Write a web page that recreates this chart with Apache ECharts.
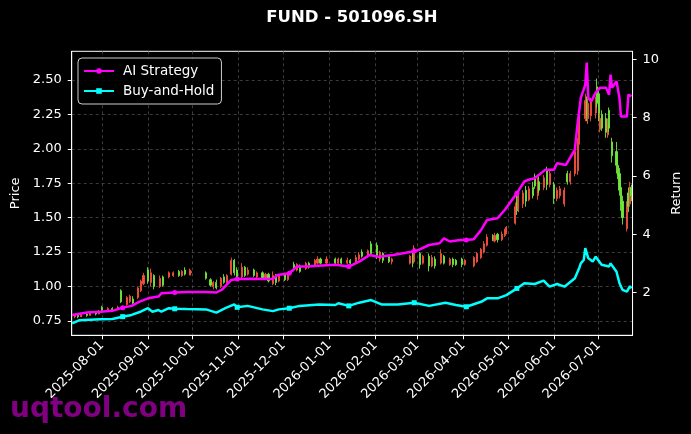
<!DOCTYPE html>
<html><head><meta charset="utf-8">
<script src="https://cdn.jsdelivr.net/npm/echarts@6/dist/echarts.min.js"></script>
<style>html,body{margin:0;padding:0;background:#000;}#c{width:691px;height:434px;}</style>
</head><body><div id="c"></div>
<script>
// ---------- DATA ----------
const candleDates = ['2025-07-14','2025-07-16','2025-07-18','2025-07-22','2025-07-24','2025-07-28','2025-07-30','2025-08-01','2025-08-05','2025-08-08','2025-08-12','2025-08-14','2025-08-18','2025-08-20','2025-08-22','2025-08-25','2025-08-27','2025-08-29','2025-09-01','2025-09-03','2025-09-05','2025-09-09','2025-09-11','2025-09-15','2025-09-18','2025-09-22','2025-09-24','2025-09-26','2025-09-29','2025-09-30','2025-10-10','2025-10-13','2025-10-15','2025-10-17','2025-10-20','2025-10-22','2025-10-24','2025-10-27','2025-10-29','2025-10-31','2025-11-03','2025-11-05','2025-11-07','2025-11-11','2025-11-13','2025-11-17','2025-11-19','2025-11-21','2025-11-24','2025-11-26','2025-11-28','2025-12-02','2025-12-04','2025-12-08','2025-12-10','2025-12-12','2025-12-16','2025-12-18','2025-12-22','2025-12-24','2025-12-26','2025-12-30','2026-01-05','2026-01-07','2026-01-09','2026-01-13','2026-01-15','2026-01-19','2026-01-21','2026-01-23','2026-01-27','2026-01-29','2026-02-02','2026-02-04','2026-02-06','2026-02-10','2026-02-12','2026-02-24','2026-02-26','2026-02-27','2026-03-03','2026-03-05','2026-03-09','2026-03-11','2026-03-13','2026-03-17','2026-03-19','2026-03-23','2026-03-25','2026-03-27','2026-03-31','2026-04-02','2026-04-08','2026-04-10','2026-04-13','2026-04-15','2026-04-17','2026-04-21','2026-04-22','2026-04-24','2026-04-27','2026-04-29','2026-04-30','2026-05-06','2026-05-07','2026-05-08','2026-05-11','2026-05-13','2026-05-15','2026-05-18','2026-05-19','2026-05-21','2026-05-22','2026-05-25','2026-05-27','2026-05-29','2026-06-01','2026-06-03','2026-06-05','2026-06-08','2026-06-10','2026-06-12','2026-06-15','2026-06-17','2026-06-18','2026-06-22','2026-06-23','2026-06-24','2026-06-26','2026-06-29','2026-06-30','2026-07-01','2026-07-02','2026-07-03','2026-07-06','2026-07-07','2026-07-08','2026-07-10','2026-07-13','2026-07-14','2026-07-15','2026-07-16','2026-07-17','2026-07-20','2026-07-21','2026-07-22','2026-07-23'];
const candleOpen  = [0.78,0.79,0.78,0.80,0.79,0.81,0.80,0.85,0.83,0.84,0.83,0.97,0.87,0.89,0.91,0.92,0.97,1.02,1.12,1.03,1.08,1.00,1.07,1.07,1.08,1.11,1.08,1.12,1.09,1.10,1.10,1.05,1.00,1.03,1.00,1.07,1.03,1.09,1.19,1.12,1.07,1.14,1.09,1.12,1.07,1.10,1.06,1.09,1.02,1.08,1.04,1.09,1.05,1.16,1.12,1.15,1.13,1.17,1.15,1.17,1.20,1.17,1.20,1.17,1.20,1.17,1.19,1.18,1.20,1.25,1.22,1.31,1.30,1.20,1.24,1.22,1.18,1.17,1.23,1.18,1.24,1.17,1.22,1.15,1.20,1.17,1.22,1.16,1.20,1.19,1.20,1.16,1.15,1.18,1.21,1.25,1.30,1.37,1.33,1.38,1.34,1.37,1.39,1.46,1.62,1.56,1.60,1.70,1.63,1.72,1.80,1.66,1.76,1.72,1.84,1.74,1.74,1.64,1.66,1.60,1.82,1.76,1.82,1.84,2.05,2.22,2.36,2.22,2.24,2.26,2.45,2.40,2.14,2.25,2.22,2.10,2.28,2.05,1.98,1.88,1.82,1.72,1.62,1.42,1.68,1.60,1.72];
const candleClose = [0.79,0.78,0.80,0.79,0.81,0.80,0.82,0.83,0.84,0.83,0.85,0.89,0.92,0.93,0.88,0.99,1.04,1.08,1.04,1.10,1.00,1.06,1.01,1.10,1.10,1.08,1.11,1.09,1.12,1.11,1.06,1.01,1.03,0.99,1.06,1.03,1.08,1.19,1.10,1.07,1.14,1.08,1.12,1.08,1.10,1.06,1.09,1.04,1.08,1.03,1.08,1.05,1.09,1.12,1.16,1.11,1.17,1.14,1.19,1.20,1.17,1.20,1.17,1.20,1.17,1.19,1.17,1.21,1.23,1.22,1.26,1.24,1.22,1.25,1.19,1.18,1.20,1.22,1.17,1.28,1.16,1.22,1.15,1.21,1.15,1.24,1.17,1.20,1.16,1.16,1.16,1.19,1.21,1.24,1.27,1.31,1.36,1.34,1.37,1.34,1.38,1.41,1.43,1.58,1.55,1.66,1.68,1.62,1.71,1.66,1.73,1.76,1.70,1.79,1.74,1.82,1.64,1.70,1.71,1.70,1.76,1.82,1.98,2.05,2.25,2.35,2.24,2.33,2.34,2.36,2.33,2.22,2.22,2.15,2.12,2.18,2.15,1.95,1.88,1.80,1.70,1.60,1.50,1.58,1.58,1.72,1.66];
const candleLow   = [0.77,0.77,0.78,0.78,0.79,0.79,0.80,0.81,0.82,0.82,0.83,0.88,0.86,0.88,0.87,0.91,0.96,1.01,1.02,1.00,0.98,0.99,1.00,1.06,1.07,1.07,1.07,1.08,1.08,1.08,1.05,1.00,0.98,0.98,0.99,1.02,1.02,1.08,1.08,1.06,1.06,1.07,1.08,1.07,1.06,1.05,1.05,1.03,1.01,1.01,1.03,1.04,1.04,1.11,1.11,1.10,1.12,1.13,1.14,1.16,1.16,1.16,1.16,1.16,1.16,1.16,1.16,1.17,1.19,1.21,1.21,1.22,1.20,1.18,1.17,1.17,1.16,1.16,1.14,1.17,1.13,1.16,1.11,1.14,1.13,1.16,1.16,1.15,1.14,1.15,1.14,1.15,1.14,1.17,1.20,1.24,1.29,1.33,1.32,1.32,1.33,1.36,1.38,1.45,1.52,1.54,1.57,1.58,1.62,1.64,1.71,1.63,1.68,1.70,1.70,1.72,1.60,1.62,1.64,1.58,1.74,1.74,1.80,1.81,2.03,2.20,2.20,2.18,2.20,2.22,2.30,2.20,2.12,2.13,2.08,2.08,2.12,1.90,1.82,1.78,1.66,1.55,1.45,1.40,1.54,1.58,1.62];
const candleHigh  = [0.80,0.80,0.81,0.81,0.82,0.82,0.83,0.86,0.85,0.85,0.86,0.98,0.93,0.94,0.93,1.00,1.05,1.10,1.14,1.13,1.09,1.08,1.08,1.11,1.11,1.12,1.12,1.14,1.13,1.12,1.11,1.06,1.04,1.05,1.07,1.09,1.09,1.21,1.20,1.14,1.17,1.15,1.14,1.13,1.11,1.11,1.10,1.10,1.11,1.09,1.09,1.10,1.10,1.18,1.17,1.16,1.18,1.18,1.20,1.22,1.21,1.22,1.21,1.21,1.21,1.21,1.20,1.23,1.25,1.27,1.27,1.33,1.32,1.26,1.25,1.23,1.21,1.23,1.25,1.30,1.25,1.23,1.24,1.23,1.22,1.27,1.23,1.21,1.21,1.20,1.21,1.20,1.22,1.25,1.28,1.33,1.38,1.38,1.39,1.39,1.40,1.42,1.44,1.61,1.66,1.69,1.70,1.73,1.73,1.76,1.82,1.79,1.80,1.81,1.87,1.84,1.76,1.72,1.73,1.72,1.84,1.84,2.02,2.08,2.30,2.40,2.38,2.36,2.37,2.38,2.51,2.43,2.26,2.28,2.26,2.22,2.30,2.08,2.05,1.92,1.86,1.76,1.66,1.62,1.72,1.76,1.74];

const aiDates = ['2025-07-12','2025-07-17','2025-07-22','2025-07-31','2025-08-08','2025-08-15','2025-08-21','2025-08-26','2025-09-01','2025-09-04','2025-09-08','2025-09-10','2025-09-19','2025-09-27','2025-10-10','2025-10-17','2025-10-21','2025-10-27','2025-10-31','2025-11-10','2025-11-24','2025-11-27','2025-12-05','2025-12-10','2025-12-16','2026-01-05','2026-01-14','2026-01-21','2026-01-28','2026-02-03','2026-02-13','2026-02-25','2026-02-27','2026-03-02','2026-03-09','2026-03-16','2026-03-19','2026-03-23','2026-03-30','2026-04-03','2026-04-08','2026-04-13','2026-04-17','2026-04-24','2026-04-29','2026-05-07','2026-05-12','2026-05-15','2026-05-19','2026-05-26','2026-06-01','2026-06-03','2026-06-09','2026-06-15','2026-06-17','2026-06-19','2026-06-22','2026-06-23','2026-06-24','2026-06-26','2026-06-29','2026-07-02','2026-07-06','2026-07-08','2026-07-09','2026-07-10','2026-07-13','2026-07-15','2026-07-16','2026-07-20','2026-07-21','2026-07-23'];
const aiValues = [1.23,1.27,1.31,1.34,1.37,1.48,1.54,1.68,1.80,1.83,1.86,1.97,2.00,2.02,2.02,2.00,2.11,2.43,2.46,2.47,2.46,2.60,2.66,2.89,2.89,2.95,2.89,3.06,3.29,3.23,3.29,3.40,3.42,3.46,3.63,3.69,3.86,3.75,3.80,3.80,3.83,4.15,4.49,4.55,4.84,5.41,5.81,5.87,5.92,6.21,6.21,6.44,6.38,6.90,7.87,8.68,9.13,9.89,8.68,8.56,8.86,9.03,9.03,8.79,9.48,9.03,9.25,8.68,8.04,8.04,8.79,8.73];

const bhDates = ['2025-07-12','2025-07-17','2025-07-31','2025-08-08','2025-08-15','2025-08-21','2025-08-26','2025-09-01','2025-09-04','2025-09-08','2025-09-10','2025-09-15','2025-09-19','2025-09-27','2025-10-10','2025-10-17','2025-10-23','2025-10-29','2025-10-31','2025-11-07','2025-11-17','2025-11-24','2025-11-28','2025-12-05','2025-12-12','2025-12-25','2026-01-05','2026-01-07','2026-01-14','2026-01-21','2026-01-29','2026-02-05','2026-02-16','2026-02-27','2026-03-09','2026-03-20','2026-03-27','2026-04-03','2026-04-13','2026-04-17','2026-04-24','2026-04-30','2026-05-07','2026-05-12','2026-05-19','2026-05-25','2026-05-29','2026-06-03','2026-06-08','2026-06-15','2026-06-16','2026-06-18','2026-06-19','2026-06-21','2026-06-22','2026-06-24','2026-06-27','2026-06-29','2026-07-03','2026-07-08','2026-07-09','2026-07-13','2026-07-15','2026-07-17','2026-07-20','2026-07-22','2026-07-23'];
const bhValues = [0.94,1.05,1.08,1.09,1.17,1.23,1.32,1.46,1.34,1.40,1.34,1.46,1.44,1.43,1.42,1.31,1.46,1.59,1.49,1.54,1.42,1.36,1.42,1.46,1.54,1.59,1.57,1.63,1.54,1.65,1.74,1.59,1.59,1.65,1.54,1.65,1.57,1.51,1.68,1.80,1.80,1.91,2.14,2.32,2.29,2.41,2.20,2.29,2.20,2.49,2.55,2.85,3.00,3.12,3.52,3.18,3.06,3.23,2.95,2.89,3.00,2.71,2.32,2.09,2.03,2.22,2.14];

const markerDates = ['2025-08-15','2025-09-19','2025-10-31','2025-12-05','2026-01-14','2026-02-27','2026-04-03','2026-05-07'];

const monthTicks = ['2025-08-01','2025-09-01','2025-10-01','2025-11-01','2025-12-01','2026-01-01','2026-02-01','2026-03-01','2026-04-01','2026-05-01','2026-06-01','2026-07-01'];
const priceTicks = [0.75,1.00,1.25,1.50,1.75,2.00,2.25,2.50];
const returnTicks = [2,4,6,8,10];

// ---------- CHART ----------
const FONT = 'DejaVu Sans';
const ts = (s) => { const p = s.split('-').map(Number); return new Date(p[0], p[1]-1, p[2]).getTime(); };
const pad2 = (n) => (n < 10 ? '0' : '') + n;
const fmtDate = (v) => { const d = new Date(v); return d.getFullYear() + '-' + pad2(d.getMonth()+1) + '-' + pad2(d.getDate()); };
const markerSet = new Set(markerDates);
const candleData = candleDates.map((d,i)=>[ts(d),candleOpen[i],candleClose[i],candleLow[i],candleHigh[i]]);
const aiData = aiDates.map((d,i)=>[ts(d),aiValues[i]]);
const bhData = bhDates.map((d,i)=>[ts(d),bhValues[i]]);
const monthTickTs = monthTicks.map(ts);

const chart = echarts.init(document.getElementById('c'), null, {renderer:'canvas'});
const gridDash = {color:'#555', width:0.7, type:[3,3]};
chart.setOption({
  backgroundColor:'#000',
  animation:false,
  title:{text:'FUND - 501096.SH', left:352, top:9, padding:0, textAlign:'center',
    textStyle:{color:'#fff', fontSize:16.5, fontWeight:'bold', fontFamily:FONT}},
  legend:{left:78, top:58, orient:'vertical', itemWidth:30, itemHeight:7, itemGap:6,
    padding:[6,7,6,5], borderColor:'#cccccc', borderWidth:1, borderRadius:4,
    backgroundColor:'rgba(0,0,0,0.85)',
    textStyle:{color:'#fff', fontSize:13.5, fontFamily:FONT, padding:[0,0,0,4]},
    data:['AI Strategy','Buy-and-Hold']},
  grid:{left:71.7, top:51.3, width:562.6, height:284, show:true, borderColor:'#fff', borderWidth:1, backgroundColor:'#000'},
  xAxis:{type:'value', min:new Date(2025,6,11,17).getTime(), max:new Date(2026,6,23,19).getTime(),
    axisLine:{lineStyle:{color:'#fff', width:1}},
    axisTick:{length:4, lineStyle:{color:'#fff'}, customValues:monthTickTs},
    axisLabel:{customValues:monthTickTs, rotate:45, color:'#fff', fontSize:13, fontFamily:FONT, margin:8,
      formatter:fmtDate},
    splitLine:{show:true, lineStyle:gridDash}},
  yAxis:[
    {type:'value', position:'left', min:0.646, max:2.708,
     name:'Price', nameLocation:'middle', nameGap:48, nameRotate:90,
     nameTextStyle:{color:'#fff', fontSize:13, fontFamily:FONT},
     axisLine:{show:true, lineStyle:{color:'#fff'}},
     axisTick:{show:true, length:4, lineStyle:{color:'#fff'}, customValues:priceTicks},
     axisLabel:{customValues:priceTicks, color:'#fff', fontSize:13, fontFamily:FONT, margin:10,
       formatter:(v)=>v.toFixed(2)},
     splitLine:{show:true, lineStyle:gridDash}},
    {type:'value', position:'right', min:0.53, max:10.28,
     name:'Return', nameLocation:'middle', nameGap:31, nameRotate:90,
     nameTextStyle:{color:'#fff', fontSize:13, fontFamily:FONT},
     axisLine:{show:true, lineStyle:{color:'#fff'}},
     axisTick:{show:true, length:4, lineStyle:{color:'#fff'}, customValues:returnTicks},
     axisLabel:{customValues:returnTicks, color:'#fff', fontSize:13, fontFamily:FONT, margin:10},
     splitLine:{show:false}}
  ],
  graphic:[{type:'text', left:10, top:396, z:-1,
    style:{text:'uqtool.com', fill:'rgba(140,0,140,0.92)', fontSize:28, fontWeight:'bold', fontFamily:FONT}}],
  series:[
    {type:'candlestick', name:'Price', yAxisIndex:0, data:candleData, encode:{x:0,y:[1,2,3,4]},
     barWidth:1.6, itemStyle:{color:'#f5503c', color0:'#6fe83a', borderColor:'#f5503c', borderColor0:'#6fe83a', borderWidth:0.9}},
    {type:'line', name:'AI Strategy', yAxisIndex:1, data:aiData, symbol:'circle', showSymbol:true, showAllSymbol:true,
     symbolSize:(v,p)=>markerSet.has(aiDates[p.dataIndex])?5:0,
     lineStyle:{color:'#ff00ff', width:2.5}, itemStyle:{color:'#ff00ff'}, z:5},
    {type:'line', name:'Buy-and-Hold', yAxisIndex:1, data:bhData, symbol:'rect', showSymbol:true, showAllSymbol:true,
     symbolSize:(v,p)=>markerSet.has(bhDates[p.dataIndex])?5:0,
     lineStyle:{color:'#00ffff', width:2.5}, itemStyle:{color:'#00ffff'}, z:5}
  ]
});
</script></body></html>
